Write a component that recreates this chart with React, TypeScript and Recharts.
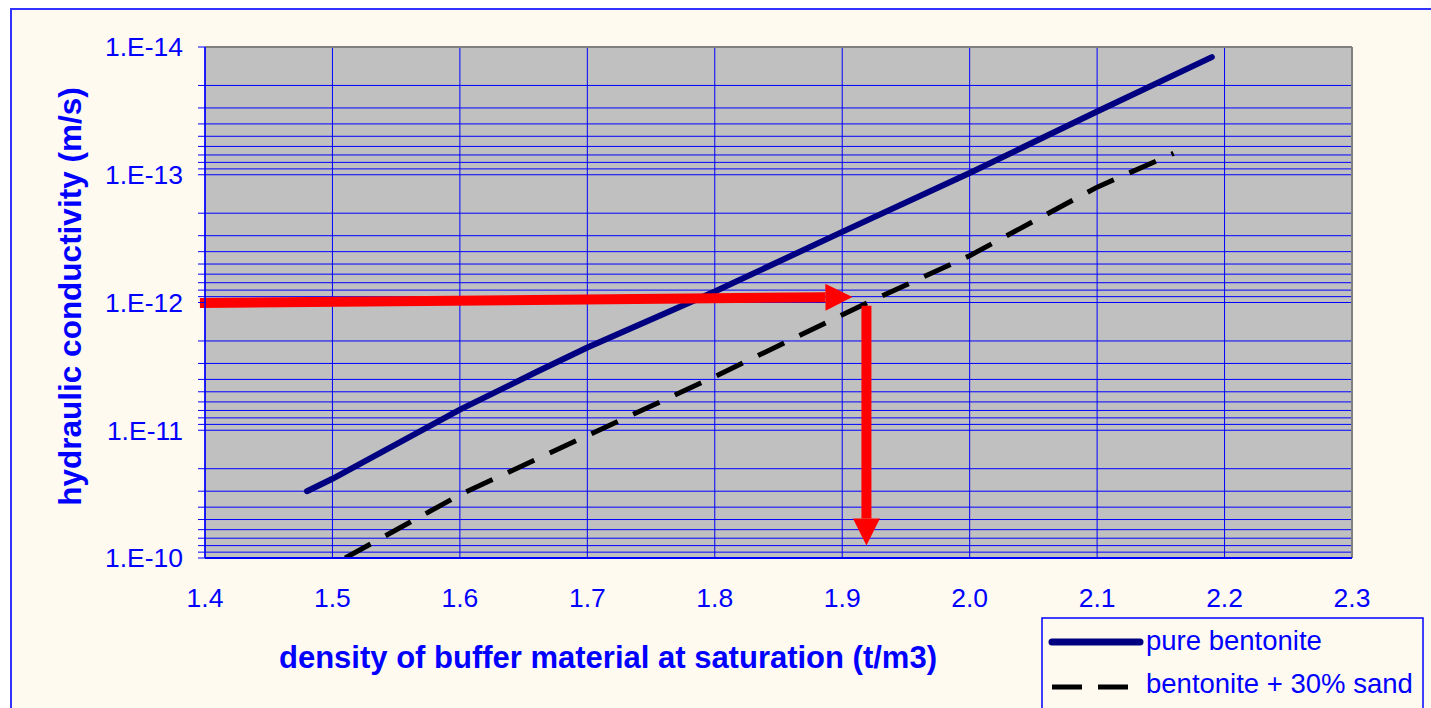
import React from 'react';
import {
  CartesianGrid,
  Label,
  Legend,
  Line,
  LineChart,
  ReferenceLine,
  XAxis,
  YAxis,
} from 'recharts';

// density (t/m3) vs hydraulic conductivity (m/s)
const pureDensity = [1.48, 1.5, 1.6, 1.66, 1.7, 1.8, 1.9, 2.0, 2.1, 2.19];
const pureK = [3.0e-11, 2.4e-11, 6.9e-12, 3.5e-12, 2.25e-12, 8.2e-13, 2.8e-13, 9.7e-14, 3.2e-14, 1.2e-14];

const sandDensity = [1.51, 1.6, 1.7, 1.8, 1.92, 2.0, 2.1, 2.16];
const sandK = [1.0e-10, 3.2e-11, 1.1e-11, 3.8e-12, 1.0e-12, 4.3e-13, 1.25e-13, 6.8e-14];

const densityTicks = [1.4, 1.5, 1.6, 1.7, 1.8, 1.9, 2.0, 2.1, 2.2, 2.3];
const decades = [1e-14, 1e-13, 1e-12, 1e-11, 1e-10];
const minorSteps = [2, 3, 4, 5, 6, 7, 8, 9];

// red reading arrows: K = 1E-12 -> density ~1.92
const arrowAcross = [
  { x: 1.396, y: 1.01e-12 },
  { x: 1.908, y: 0.906e-12 },
];
const arrowDown = [
  { x: 1.919, y: 1.06e-12 },
  { x: 1.919, y: 8.0e-11 },
];

const seriesNames = ['pure bentonite', 'bentonite + 30% sand'];

const pureData = pureDensity.map((d, i) => ({ d, k: pureK[i] }));
const sandData = sandDensity.map((d, i) => ({ d, k: sandK[i] }));

const kTicks: number[] = [];
decades.forEach((dec, i) => {
  kTicks.push(dec);
  if (i < decades.length - 1) minorSteps.forEach((m) => kTicks.push(dec * m));
});

const BLUE = '#0000ff';
const NAVY = '#000080';
const CREAM = '#fffaf0';
const FONT = '"Liberation Sans", Arial, sans-serif';

function formatK(v: number) {
  const e = Math.log10(v);
  return Math.abs(e - Math.round(e)) < 1e-6 ? `1.E${Math.round(e)}` : '';
}

function Arrow(props: any) {
  const { x1, y1, x2, y2 } = props;
  const len = Math.hypot(x2 - x1, y2 - y1);
  const ux = (x2 - x1) / len;
  const uy = (y2 - y1) / len;
  const head = 27;
  const half = 13.5;
  const bx = x2 - ux * head;
  const by = y2 - uy * head;
  return (
    <g>
      <line x1={x1} y1={y1} x2={bx} y2={by} stroke="#ff0000" strokeWidth={10} />
      <polygon
        points={`${x2},${y2} ${bx - uy * half},${by + ux * half} ${bx + uy * half},${by - ux * half}`}
        fill="#ff0000"
      />
    </g>
  );
}

function YTitle(props: any) {
  const vb = props.viewBox;
  const cx = vb.x + 58;
  const cy = vb.y + 249.5;
  return (
    <text
      x={cx}
      y={cy}
      transform={`rotate(-90, ${cx}, ${cy})`}
      textAnchor="middle"
      dominantBaseline="central"
      fill={BLUE}
      fontSize={31.5}
      fontWeight="bold"
      fontFamily={FONT}
    >
      hydraulic conductivity (m/s)
    </text>
  );
}

function XTitle(props: any) {
  const vb = props.viewBox;
  return (
    <text
      x={vb.x + 403}
      y={vb.y + 110}
      textAnchor="middle"
      fill={BLUE}
      fontSize={31}
      fontWeight="bold"
      fontFamily={FONT}
    >
      density of buffer material at saturation (t/m3)
    </text>
  );
}

function LegendBox() {
  return (
    <svg width={383} height={110} style={{ display: 'block' }}>
      <rect x={1} y={1} width={381} height={120} fill={CREAM} stroke={BLUE} strokeWidth={1.5} />
      <line x1={11} y1={25} x2={99} y2={25} stroke={NAVY} strokeWidth={7} strokeLinecap="round" />
      <text x={105} y={33} fill={BLUE} fontSize={27.5} fontFamily={FONT}>
        {seriesNames[0]}
      </text>
      <line x1={11} y1={70} x2={87} y2={70} stroke="#000" strokeWidth={5} strokeDasharray="30 16" />
      <text x={105} y={76} fill={BLUE} fontSize={27.5} fontFamily={FONT}>
        {seriesNames[1]}
      </text>
    </svg>
  );
}

export default function App() {
  return (
    <div
      style={{
        position: 'absolute',
        left: 10,
        top: 8,
        width: 1421,
        height: 700,
        boxSizing: 'border-box',
        borderTop: '2px solid #3333ff',
        borderLeft: '2px solid #3333ff',
        background: CREAM,
        overflow: 'hidden',
      }}
    >
      <LineChart
        width={1419}
        height={698}
        margin={{ top: 37, right: 79, left: 0, bottom: 90 }}
        style={{ fontFamily: FONT }}
      >
        <CartesianGrid
          stroke={BLUE}
          strokeWidth={1}
          fill="#c0c0c0"
          fillOpacity={1}
        />
        <XAxis
          type="number"
          dataKey="d"
          domain={[1.4, 2.3]}
          ticks={densityTicks}
          tickFormatter={(v: number) => v.toFixed(1)}
          allowDataOverflow
          height={60}
          tickLine={false}
          tickSize={8}
          tickMargin={22}
          axisLine={{ stroke: BLUE, strokeWidth: 2 }}
          tick={{ fill: BLUE, fontSize: 26.5, fontFamily: FONT }}
        >
          <Label content={XTitle} />
        </XAxis>
        <YAxis
          type="number"
          scale="log"
          domain={[1e-14, 1e-10]}
          ticks={kTicks}
          interval={0}
          reversed
          allowDataOverflow
          width={193}
          tickFormatter={formatK}
          tickSize={7}
          tickMargin={15}
          tickLine={{ stroke: BLUE }}
          axisLine={{ stroke: BLUE, strokeWidth: 1.5 }}
          tick={{ fill: BLUE, fontSize: 26.5, fontFamily: FONT }}
        >
          <Label content={YTitle} />
        </YAxis>
        <ReferenceLine y={1e-14} stroke="#808080" strokeWidth={2} />
        <ReferenceLine x={2.3} stroke="#808080" strokeWidth={2} />
        <Line
          data={pureData}
          dataKey="k"
          name={seriesNames[0]}
          type="linear"
          stroke={NAVY}
          strokeWidth={6}
          strokeLinecap="round"
          dot={false}
          activeDot={false}
          isAnimationActive={false}
        />
        <Line
          data={sandData}
          dataKey="k"
          name={seriesNames[1]}
          type="linear"
          stroke="#000000"
          strokeWidth={5}
          strokeDasharray="29 17"
          dot={false}
          activeDot={false}
          isAnimationActive={false}
        />
        <ReferenceLine segment={arrowAcross} ifOverflow="visible" shape={Arrow} />
        <ReferenceLine segment={arrowDown} ifOverflow="visible" shape={Arrow} />
        <Legend
          layout="horizontal"
          verticalAlign="middle"
          align="center"
          wrapperStyle={{ left: 1029, top: 607, width: 383, height: 110 }}
          content={LegendBox}
        />
      </LineChart>
    </div>
  );
}
